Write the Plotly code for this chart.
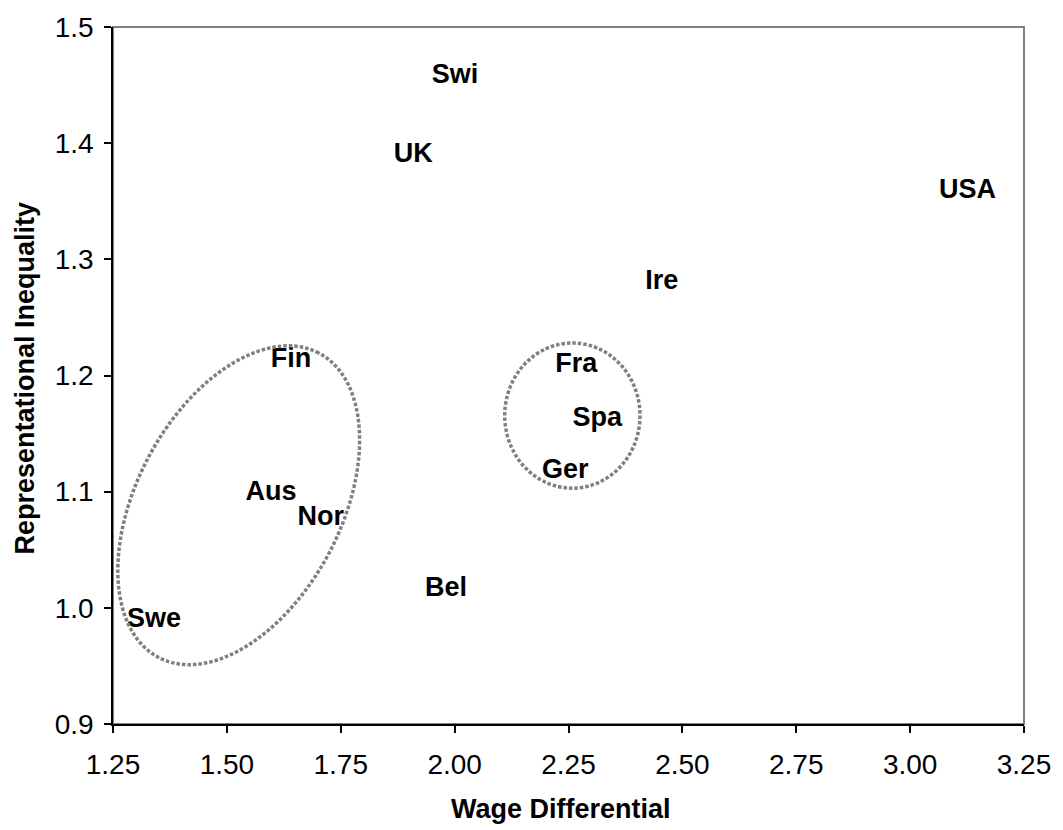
import numpy as np
import plotly.graph_objects as go

# Country codes with wage differential (x) and representational inequality (y)
countries = ["Swi", "UK", "USA", "Ire", "Fin", "Fra", "Spa", "Ger",
             "Aus", "Nor", "Bel", "Swe"]
wage_diff = [2.001, 1.909, 3.126, 2.455, 1.641, 2.267, 2.313, 2.243,
             1.597, 1.706, 1.981, 1.340]
rep_ineq = [1.458, 1.390, 1.359, 1.280, 1.213, 1.2085, 1.1625, 1.118,
            1.099, 1.077, 1.016, 0.989]

x_ticks = [1.25, 1.50, 1.75, 2.00, 2.25, 2.50, 2.75, 3.00, 3.25]
y_ticks = [0.9, 1.0, 1.1, 1.2, 1.3, 1.4, 1.5]

FONT = "Arial, Liberation Sans, Helvetica, sans-serif"
DOT_GREY = "#808080"
DOT_LINE = dict(color=DOT_GREY, width=3.5, dash="3.5px,2px")

fig = go.Figure()

fig.add_trace(go.Scatter(
    x=wage_diff, y=rep_ineq, mode="text", text=countries,
    textposition="middle center",
    textfont=dict(family=FONT, size=27, color="black", weight="bold"),
    hoverinfo="skip", showlegend=False,
))

# Tilted ellipse around the Nordic cluster (centre + two semi-axis vectors)
cx, cy = 1.526, 1.0883
major = (0.1755, 0.1311)
minor = (-0.1991, 0.0406)
t = np.linspace(0, 2 * np.pi, 181)
ex = cx + np.cos(t) * major[0] + np.sin(t) * minor[0]
ey = cy + np.cos(t) * major[1] + np.sin(t) * minor[1]
path = "M " + " L ".join(f"{a:.5f},{b:.5f}" for a, b in zip(ex, ey)) + " Z"
fig.add_shape(type="path", path=path, xref="x", yref="y", line=DOT_LINE)

# Circle around France / Spain / Germany
fig.add_shape(type="circle", xref="x", yref="y",
              x0=2.110, x1=2.407, y0=1.103, y1=1.228, line=DOT_LINE)

# Plot frame: grey top/right edges beneath the black axis lines
fig.add_shape(type="rect", xref="paper", yref="paper", x0=0, x1=1, y0=0, y1=1,
              line=dict(color="#808080", width=2), layer="below")

# Axis titles
fig.add_annotation(text="<b>Wage Differential</b>", xref="paper", yref="paper",
                   x=0.5, y=-0.1, xanchor="center", yanchor="middle",
                   xshift=-8, yshift=-15, showarrow=False,
                   font=dict(size=27, family=FONT, color="black"))
fig.add_annotation(text="<b>Representational Inequality</b>", xref="paper",
                   yref="paper", x=0, y=0.5, xanchor="center", yanchor="middle",
                   xshift=-89, yshift=-3, textangle=-90, showarrow=False,
                   font=dict(size=27, family=FONT, color="black"))

fig.update_layout(
    width=1063, height=830,
    margin=dict(l=113, r=34, t=20, b=106),
    paper_bgcolor="white", plot_bgcolor="white",
    font=dict(family=FONT, color="black"),
    xaxis=dict(
        range=[1.25, 3.25], tickvals=x_ticks,
        ticktext=[f"{v:.2f}" for v in x_ticks],
        showgrid=False, zeroline=False,
        showline=True, linecolor="black", linewidth=1.5,
        ticks="outside", ticklen=7, tickwidth=1.5, tickcolor="black",
        tickfont=dict(size=28, family=FONT, color="black"),
        ticklabelstandoff=8,
    ),
    yaxis=dict(
        range=[0.9, 1.5], tickvals=y_ticks,
        ticktext=[f"{v:.1f}" for v in y_ticks],
        showgrid=False, zeroline=False,
        showline=True, linecolor="black", linewidth=1.5,
        ticks="outside", ticklen=7, tickwidth=1.5, tickcolor="black",
        tickfont=dict(size=28, family=FONT, color="black"),
        ticklabelstandoff=5,
    ),
)

fig.write_html("out.html")
